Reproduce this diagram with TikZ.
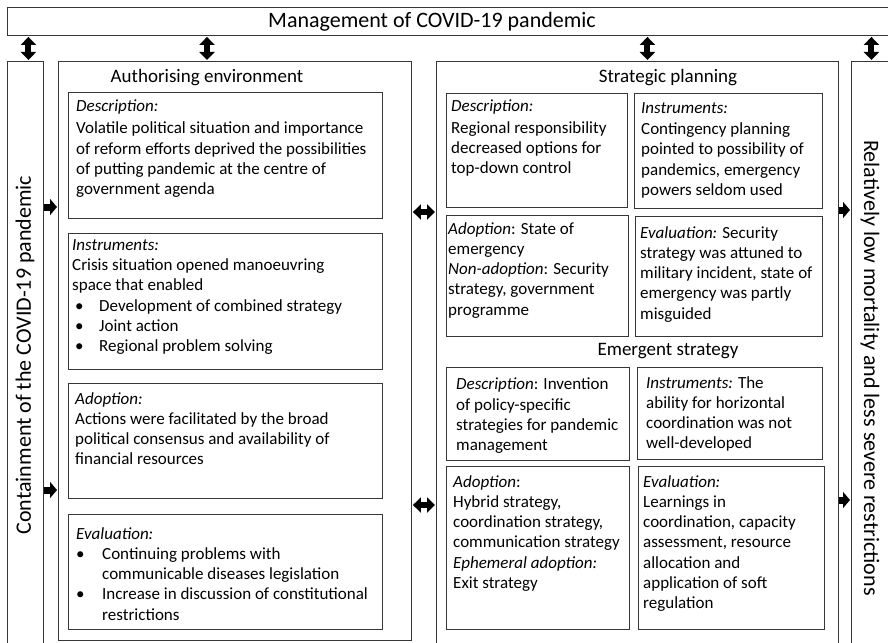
\documentclass[tikz,border=0pt]{standalone}
\usepackage{fontspec}
\setmainfont{Carlito}
\usetikzlibrary{arrows.meta}
\definecolor{framegray}{RGB}{55,55,55}

\tikzset{
  frame/.style={draw=framegray, line width=0.9pt, anchor=north west, inner sep=0pt},
  infobox/.style={draw=framegray, line width=0.9pt, anchor=north west, inner sep=0pt},
  txt/.style={anchor=north west, align=left, font=\fontsize{17pt}{20.3pt}\selectfont},
  headtxt/.style={font=\fontsize{19pt}{23pt}\selectfont},
  bigtxt/.style={font=\fontsize{22pt}{26pt}\selectfont},
  fatboth/.style={line width=6pt, {Triangle[length=8pt,width=15pt]}-{Triangle[length=8pt,width=15pt]}, shorten <=1pt, shorten >=1pt},
  fatright/.style={line width=7pt, -{Triangle[length=7pt,width=16pt]}, shorten >=1pt}
}

\begin{document}
\begin{tikzpicture}[x=1pt, y=-1pt]
	\useasboundingbox (0,0) rectangle (888,642);
	
	% outer frames
	\node[frame, minimum width=893pt, minimum height=28pt] (mgmt) at (7,7) {};
	\node[bigtxt] (mgmttxt) at (432,22) {Management of COVID-19 pandemic};
	
	\node[frame, minimum width=36pt, minimum height=589pt] (contain) at (7,61) {};
	\node[bigtxt, rotate=90] (containtxt) at (25,355) {Containment of the COVID-19 pandemic};
	
	\node[frame, minimum width=353pt, minimum height=579pt] (auth) at (58,61) {};
	\node[headtxt] (authtitle) at (207,78) {Authorising environment};
	
	\node[frame, minimum width=402pt, minimum height=589pt] (strat) at (436,61) {};
	\node[headtxt] (strattitle) at (668,78) {Strategic planning};
	\node[headtxt] (emergtitle) at (668,351) {Emergent strategy};
	
	\node[frame, minimum width=49pt, minimum height=589pt] (result) at (851,61) {};
	\node[bigtxt, rotate=-90] (resulttxt) at (870,368) {Relatively low mortality and less severe restrictions};
	
	% authorising environment
	\node[infobox, minimum width=314pt, minimum height=126pt, label={[txt, inner xsep=8pt, inner ysep=8pt]north west:{\textit{Description:}\\[1.5pt]Volatile political situation and importance\\of reform efforts deprived the possibilities\\of putting pandemic at the centre of\\government agenda}}] (adesc) at (68,92) {};
	
	\node[infobox, minimum width=314pt, minimum height=136pt, label={[txt, inner xsep=4pt, inner ysep=6pt]north west:{\textit{Instruments:}\\Crisis situation opened manoeuvring\\space that enabled\\\hspace*{3pt}\makebox[24pt][l]{\textbullet}Development of combined strategy\\\hspace*{3pt}\makebox[24pt][l]{\textbullet}Joint action\\\hspace*{3pt}\makebox[24pt][l]{\textbullet}Regional problem solving}}] (ainstr) at (68,233) {};
	
	\node[infobox, minimum width=314pt, minimum height=115pt, label={[txt, inner xsep=7pt, inner ysep=9pt]north west:{\textit{Adoption:}\\Actions were facilitated by the broad\\political consensus and availability of\\financial resources}}] (aadopt) at (68,383) {};
	
	\node[infobox, minimum width=314pt, minimum height=115pt, label={[txt, inner xsep=8pt, inner ysep=13pt]north west:{\textit{Evaluation:}\\\makebox[26pt][l]{\textbullet}Continuing problems with\\\hspace*{26pt}communicable diseases legislation\\\makebox[26pt][l]{\textbullet}Increase in discussion of constitutional\\\hspace*{26pt}restrictions}}] (aeval) at (68,514) {};
	
	% strategic planning
	\node[infobox, minimum width=181pt, minimum height=114pt, label={[txt, inner xsep=5pt, inner ysep=7pt]north west:{\textit{Description:}\\[1pt]Regional responsibility\\decreased options for\\top-down control}}] (sdesc) at (446,93) {};
	
	\node[infobox, minimum width=188pt, minimum height=115pt, label={[txt, inner xsep=7pt, inner ysep=9pt]north west:{\textit{Instruments:}\\[1pt]Contingency planning\\pointed to possibility of\\pandemics, emergency\\powers seldom used}}] (sinstr) at (634,93) {};
	
	\node[infobox, minimum width=182pt, minimum height=121pt, label={[txt, inner xsep=2pt, inner ysep=7pt]north west:{\textit{Adoption}: State of\\emergency\\\textit{Non-adoption}: Security\\strategy, government\\programme}}] (sadopt) at (446,215) {};
	
	\node[infobox, minimum width=187pt, minimum height=120pt, label={[txt, inner xsep=5pt, inner ysep=10pt]north west:{\textit{Evaluation:} Security\\strategy was attuned to\\military incident, state of\\emergency was partly\\misguided}}] (seval) at (635,216) {};
	
	% emergent strategy
	\node[infobox, minimum width=183pt, minimum height=93pt, label={[txt, inner xsep=10pt, inner ysep=11pt]north west:{\textit{Description}: Invention\\of policy-specific\\strategies for pandemic\\management}}] (edesc) at (446,367) {};
	
	\node[infobox, minimum width=185pt, minimum height=92pt, label={[txt, inner xsep=9pt, inner ysep=9pt]north west:{\textit{Instruments:} The\\ability for horizontal\\coordination was not\\well-developed}}] (einstr) at (637,367) {};
	
	\node[infobox, minimum width=183pt, minimum height=163pt, label={[txt, inner xsep=7pt, inner ysep=9pt]north west:{\textit{Adoption}:\\Hybrid strategy,\\coordination strategy,\\communication strategy\\\textit{Ephemeral adoption:}\\Exit strategy}}] (eadopt) at (446,466) {};
	
	\node[infobox, minimum width=186pt, minimum height=163pt, label={[txt, inner xsep=5pt, inner ysep=9pt]north west:{\textit{Evaluation:}\\Learnings in\\coordination, capacity\\assessment, resource\\allocation and\\application of soft\\regulation}}] (eeval) at (638,466) {};
	
	% connectors
	\draw[fatboth] ([xshift=3pt]contain.north |- mgmt.south) -- ([xshift=3pt]contain.north);
	\draw[fatboth] (authtitle |- mgmt.south) -- (authtitle |- auth.north);
	\draw[fatboth] ([xshift=10pt]strat.north |- mgmt.south) -- ([xshift=10pt]strat.north);
	\draw[fatboth] ([xshift=-4.5pt]result.north |- mgmt.south) -- ([xshift=-4.5pt]result.north);
	
	\draw[fatright] (contain.east |- 0,207) -- (auth.west |- 0,207);
	\draw[fatright] (contain.east |- 0,490) -- (auth.west |- 0,490);
	
	\draw[fatboth] (auth.east |- 0,212) -- (strat.west |- 0,212);
	\draw[fatboth] (auth.east |- 0,505) -- (strat.west |- 0,505);
	
	\draw[fatright] (strat.east |- 0,210) -- (result.west |- 0,210);
	\draw[fatright] (strat.east |- 0,500) -- (result.west |- 0,500);
\end{tikzpicture}
\end{document}
